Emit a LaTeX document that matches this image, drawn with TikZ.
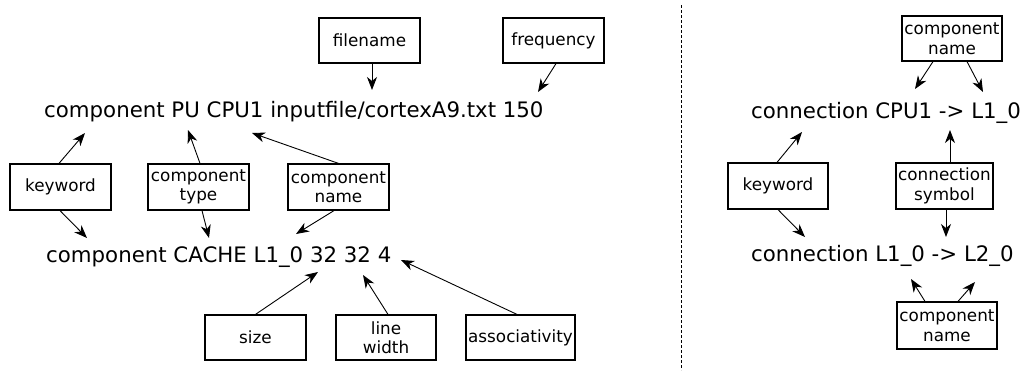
\documentclass[tikz,border=0pt]{standalone}
\usepackage{fontspec}
\setmainfont{DejaVu Sans}
\usetikzlibrary{arrows.meta}
\tikzset{
  lbl/.style={draw=black, line width=1.2pt, minimum width=101pt, minimum height=46pt, inner sep=1pt, align=center, font=\fontsize{16.8}{19.5}\selectfont},
  code/.style={anchor=base west, inner sep=0pt, font=\fontsize{21.3}{25}\selectfont},
  arr/.style={line width=0.9pt, -{Stealth[length=13pt, width=10pt, inset=4pt]}},
  sep/.style={line width=0.8pt, dash pattern=on 3pt off 2pt}
}
\begin{document}
\begin{tikzpicture}[x=1pt, y=-1pt]
\useasboundingbox (0,0) rectangle (1023,372);
% left part: text lines
\node[code] (l1) at (44,117) {component PU CPU1 inputfile/cortexA9.txt 150};
\node[code] (l2) at (46,262) {component CACHE L1\_0 32 32 4};
% boxes
\node[lbl] (kw) at (60.5,187) {keyword};
\node[lbl] (ty) at (198.5,187) {component\\type};
\node[lbl] (nm) at (338.5,187) {component\\name};
\node[lbl, minimum height=45pt] (fn) at (369.5,40.5) {filename};
\node[lbl, minimum height=45pt] (fq) at (553.5,40.5) {frequency};
\node[lbl, minimum height=45pt] (sz) at (255.5,337.5) {size};
\node[lbl, minimum height=45pt, minimum width=100pt] (lw) at (386,337.5) {line\\width};
\node[lbl, minimum height=45pt, minimum width=109pt] (as) at (520.5,337.5) {associativity};
% tip coordinates
\coordinate (tkw1) at (85,133);
\coordinate (tkw2) at (87,238);
\coordinate (tty1) at (188,130);
\coordinate (tty2) at (209,238);
\coordinate (tnm1) at (252,133);
\coordinate (tnm2) at (296,234);
\coordinate (tfn) at (372,90);
\coordinate (tfq) at (538,92);
\coordinate (tsz) at (318,272);
\coordinate (tlw) at (363,275);
\coordinate (tas) at (401,260);
\draw[arr] ([xshift=-1.5pt]kw.north) -- (tkw1);
\draw[arr] ([xshift=-0.5pt]kw.south) -- (tkw2);
\draw[arr] ([xshift=1.5pt]ty.north) -- (tty1);
\draw[arr] ([xshift=3.5pt]ty.south) -- (tty2);
\draw[arr] (nm.north) -- (tnm1);
\draw[arr] ([xshift=-4.5pt]nm.south) -- (tnm2);
\draw[arr] ([xshift=2.5pt]fn.south) -- (tfn);
\draw[arr] ([xshift=2.5pt]fq.south) -- (tfq);
\draw[arr] (sz.north) -- (tsz);
\draw[arr] ([xshift=2pt]lw.north) -- (tlw);
\draw[arr] ([xshift=-3.5pt]as.north) -- (tas);
% separator
\coordinate (s1) at (681,5);
\coordinate (s2) at (681,370);
\draw[sep] (s1) -- (s2);
% right part
\node[code] (r1) at (751,118) {connection CPU1 -> L1\_0};
\node[code] (r2) at (751,261) {connection L1\_0 -> L2\_0};
\node[lbl, minimum height=45pt, minimum width=100pt] (rn1) at (952,38.5) {component\\name};
\node[lbl, minimum width=100pt] (rkw) at (778,186) {keyword};
\node[lbl, minimum width=97pt] (rcs) at (944.5,186) {connection\\symbol};
\node[lbl, minimum height=47pt, minimum width=100pt] (rn2) at (947,325.5) {component\\name};
\coordinate (trn1a) at (915,89);
\coordinate (trn1b) at (983,92);
\coordinate (trkw1) at (802,132);
\coordinate (trkw2) at (805,237);
\coordinate (trcs1) at (950,130);
\coordinate (trcs2) at (946,237);
\coordinate (trn2a) at (911,279);
\coordinate (trn2b) at (975,282);
\draw[arr] ([xshift=-19pt]rn1.south) -- (trn1a);
\draw[arr] ([xshift=15pt]rn1.south) -- (trn1b);
\draw[arr] ([xshift=-1pt]rkw.north) -- (trkw1);
\draw[arr] (rkw.south) -- (trkw2);
\draw[arr] ([xshift=5.5pt]rcs.north) -- (trcs1);
\draw[arr] ([xshift=1.5pt]rcs.south) -- (trcs2);
\draw[arr] ([xshift=-22pt]rn2.north) -- (trn2a);
\draw[arr] ([xshift=11pt]rn2.north) -- (trn2b);
\end{tikzpicture}
\end{document}
